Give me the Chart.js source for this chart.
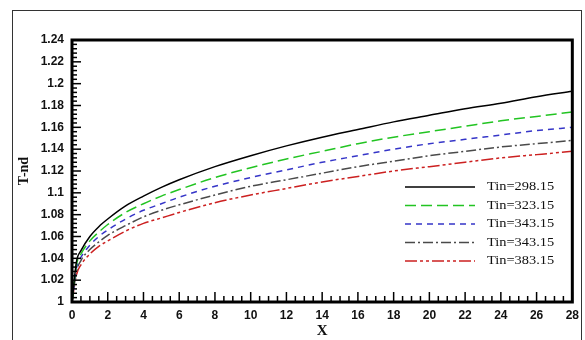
<!DOCTYPE html>
<html>
<head>
<meta charset="utf-8">
<script src="https://cdn.jsdelivr.net/npm/chart.js@4.4.0/dist/chart.umd.min.js"></script>
<style>
  html, body { margin: 0; padding: 0; background: #fff; }
  #wrap { position: relative; width: 585px; height: 340px; }
  #frame { position: absolute; left: 12px; top: 10px; width: 568px; height: 340px;
           border-left: 1px solid #333; border-top: 1px solid #333; border-right: 1px solid #333; }
  canvas { position: absolute; left: 0; top: 0; }
</style>
</head>
<body>
<div id="wrap">
  <div id="frame"></div>
  <canvas id="tChart" width="585" height="340"></canvas>
</div>
<script>
// X positions
const xValues = [0, 0.25, 0.5, 1, 1.5, 2, 3, 4, 5, 6, 8, 10, 12, 14, 16, 18, 20, 22, 24, 26, 28];

// T-nd for each inlet temperature
const tin29815 = [1.0, 1.037, 1.047, 1.060, 1.069, 1.076, 1.088, 1.097, 1.105, 1.112, 1.124, 1.134, 1.143, 1.151, 1.158, 1.165, 1.171, 1.177, 1.182, 1.188, 1.193];
const tin32315 = [1.0, 1.034, 1.044, 1.056, 1.064, 1.071, 1.082, 1.090, 1.097, 1.103, 1.114, 1.123, 1.131, 1.138, 1.145, 1.151, 1.156, 1.161, 1.166, 1.170, 1.174];
const tin34315 = [1.0, 1.031, 1.041, 1.052, 1.060, 1.066, 1.076, 1.084, 1.090, 1.096, 1.106, 1.114, 1.121, 1.128, 1.134, 1.140, 1.145, 1.149, 1.153, 1.157, 1.160];
const tin36315 = [1.0, 1.028, 1.038, 1.048, 1.055, 1.061, 1.070, 1.078, 1.084, 1.089, 1.098, 1.106, 1.112, 1.118, 1.124, 1.129, 1.134, 1.138, 1.142, 1.145, 1.148];
const tin38315 = [1.0, 1.025, 1.034, 1.044, 1.051, 1.056, 1.065, 1.072, 1.077, 1.082, 1.091, 1.098, 1.104, 1.110, 1.115, 1.120, 1.124, 1.128, 1.132, 1.135, 1.138];

const seriesLabels = ['Tin=298.15', 'Tin=323.15', 'Tin=343.15', 'Tin=343.15', 'Tin=383.15'];

// axis ticks
const xTicks = [0, 2, 4, 6, 8, 10, 12, 14, 16, 18, 20, 22, 24, 26, 28];
const yTicks = [1, 1.02, 1.04, 1.06, 1.08, 1.1, 1.12, 1.14, 1.16, 1.18, 1.2, 1.22, 1.24];

function toPoints(ys) {
    return xValues.map((x, i) => ({ x: x, y: ys[i] }));
}

function makeSet(label, ys, color, dash) {
    return {
        label: label,
        data: toPoints(ys),
        borderColor: color,
        borderWidth: 1.5,
        borderDash: dash,
        pointRadius: 0,
        fill: false,
        cubicInterpolationMode: 'monotone'
    };
}

/**
 * Inward ticks, thick frame and in-plot legend
 */
const framePlugin = {
    id: 'framePlugin',
    afterDraw(chart) {
        const ctx = chart.ctx;
        const area = chart.chartArea;
        const xs = chart.scales.x;
        const ys = chart.scales.y;
        ctx.save();
        ctx.strokeStyle = '#000';

        // minor + major ticks on x axis
        ctx.lineWidth = 1.5;
        for (let v = 0; v <= 28.001; v += 0.5) {
            const px = xs.getPixelForValue(v);
            const major = Math.abs(v / 2 - Math.round(v / 2)) < 1e-6;
            const len = major ? 10 : 6;
            ctx.beginPath();
            ctx.moveTo(px, area.bottom);
            ctx.lineTo(px, area.bottom - len);
            ctx.stroke();
        }
        // minor + major ticks on y axis
        for (let i = 0; i <= 60; i++) {
            const v = 1 + i * 0.004;
            const py = ys.getPixelForValue(v);
            const len = (i % 5 === 0) ? 9 : 5;
            ctx.beginPath();
            ctx.moveTo(area.left, py);
            ctx.lineTo(area.left + len, py);
            ctx.stroke();
        }

        // thick frame
        ctx.lineWidth = 3;
        ctx.strokeRect(area.left, area.top, area.right - area.left, area.bottom - area.top);

        // legend
        const lx0 = 405, lx1 = 475, tx = 487, ly0 = 187, step = 18.5;
        chart.data.datasets.forEach((ds, i) => {
            const y = ly0 + i * step;
            ctx.lineWidth = 1.5;
            ctx.strokeStyle = ds.borderColor;
            ctx.setLineDash(ds.borderDash || []);
            ctx.beginPath();
            ctx.moveTo(lx0, y);
            ctx.lineTo(lx1, y);
            ctx.stroke();
            ctx.setLineDash([]);
            ctx.save();
            ctx.translate(tx, y);
            ctx.scale(1.2, 1);
            ctx.fillStyle = '#111';
            ctx.font = '12px "Liberation Serif", serif';
            ctx.textBaseline = 'middle';
            ctx.fillText(ds.label, 0, 0);
            ctx.restore();
        });
        ctx.restore();
    }
};

function renderChart() {
    const canvas = document.getElementById('tChart');
    new Chart(canvas, {
        type: 'line',
        data: {
            datasets: [
                makeSet(seriesLabels[0], tin29815, '#000000', []),
                makeSet(seriesLabels[1], tin32315, '#22c422', [11, 5]),
                makeSet(seriesLabels[2], tin34315, '#3535c8', [6, 5]),
                makeSet(seriesLabels[3], tin36315, '#4a4a4a', [10, 3, 2, 3]),
                makeSet(seriesLabels[4], tin38315, '#cc2020', [12, 3, 3, 3, 3, 3])
            ]
        },
        options: {
            responsive: false,
            animation: false,
            layout: { padding: { left: 0, top: 40, right: 12, bottom: 0 } },
            plugins: {
                legend: { display: false },
                tooltip: { enabled: false }
            },
            scales: {
                x: {
                    type: 'linear',
                    min: 0,
                    max: 28,
                    afterFit: function (scale) { scale.height = 38; },
                    afterBuildTicks: function (scale) {
                        scale.ticks = xTicks.map(v => ({ value: v }));
                    },
                    ticks: {
                        color: '#111',
                        padding: 6,
                        font: { size: 12, family: "'Liberation Sans', sans-serif", weight: 'bold' }
                    },
                    grid: { display: false, drawTicks: false },
                    border: { display: false },
                    title: {
                        display: true,
                        text: 'X',
                        color: '#111',
                        padding: { top: 0, bottom: 0 },
                        font: { size: 15, family: "'Liberation Serif', serif", weight: 'bold' }
                    }
                },
                y: {
                    type: 'linear',
                    min: 1,
                    max: 1.24,
                    afterFit: function (scale) { scale.width = 72; },
                    afterBuildTicks: function (scale) {
                        scale.ticks = yTicks.map(v => ({ value: v }));
                    },
                    ticks: {
                        color: '#111',
                        padding: 8,
                        font: { size: 12, family: "'Liberation Sans', sans-serif", weight: 'bold' },
                        callback: function (value) {
                            return String(parseFloat(value.toFixed(2)));
                        }
                    },
                    grid: { display: false, drawTicks: false },
                    border: { display: false },
                    title: {
                        display: true,
                        text: 'T-nd',
                        color: '#111',
                        padding: { top: 16, bottom: 0 },
                        font: { size: 14, family: "'Liberation Serif', serif", weight: 'bold' }
                    }
                }
            }
        },
        plugins: [framePlugin]
    });
}

document.addEventListener('DOMContentLoaded', renderChart);
</script>
</body>
</html>
